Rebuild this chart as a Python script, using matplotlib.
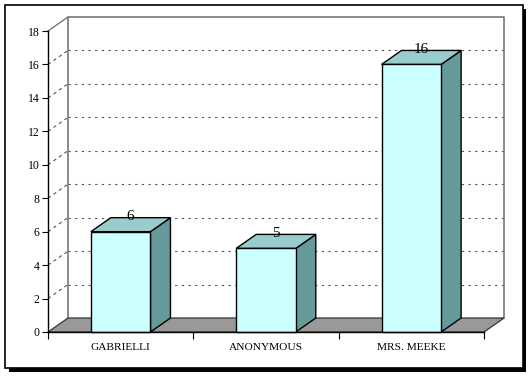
import matplotlib.pyplot as plt
from matplotlib.patches import Polygon, Rectangle

categories = ['GABRIELLI', 'ANONYMOUS', 'MRS. MEEKE']
counts = [6, 5, 16]
yticks = [0, 2, 4, 6, 8, 10, 12, 14, 16, 18]

W, H = 531, 376
fig = plt.figure(figsize=(W / 100, H / 100), dpi=100)
fig.patch.set_facecolor('white')

# frame with drop shadow (figure pixels)
fig.patches.append(Rectangle((9 / W, 1 - 372 / H), 517 / W, 363 / H, transform=fig.transFigure,
                             facecolor='black', edgecolor='none', zorder=-2))
fig.patches.append(Rectangle((5 / W, 1 - 368 / H), 518 / W, 363 / H, transform=fig.transFigure,
                             facecolor='white', edgecolor='black', linewidth=1.2, zorder=-1))

left, right, bottom, top = 48, 484, 332, 31
ax = fig.add_axes([left / W, 1 - bottom / H, (right - left) / W, (bottom - top) / H])
ax.set_zorder(1)
ax.set_xlim(-0.5, 2.5)
ax.set_ylim(0, 18)
ax.patch.set_alpha(0)

# depth offset in data units
dx = 20 / ((right - left) / 3)
dy = 14 / ((bottom - top) / 18)
x0, x1 = -0.5, 2.5
bw = 0.41

# back wall grid lines and side wall dashes
for y in yticks[1:-1]:
    ax.plot([x0 + dx, x1 + dx], [y + dy, y + dy], color='#555555', lw=0.8,
            ls=(0, (2, 4)), clip_on=False, zorder=1)
    ax.plot([x0, x0 + dx], [y, y + dy], color='#555555', lw=0.8,
            ls=(0, (3, 3)), clip_on=False, zorder=1)

# back wall border
ax.plot([x0 + dx, x0 + dx, x1 + dx, x1 + dx], [dy, 18 + dy, 18 + dy, dy],
        color='#777777', lw=1.2, clip_on=False, zorder=1)
ax.plot([x0, x0 + dx], [18, 18 + dy], color='#777777', lw=1.0, clip_on=False, zorder=1)

# floor
ax.add_patch(Polygon([(x0, 0), (x0 + dx, dy), (x1 + dx, dy), (x1, 0)], closed=True,
                     facecolor='#999999', edgecolor='#333333', lw=0.9, clip_on=False, zorder=2))

for i, v in enumerate(counts):
    xl, xr = i - bw / 2, i + bw / 2
    ax.add_patch(Polygon([(xr, 0), (xr + dx, dy), (xr + dx, v + dy), (xr, v)], closed=True,
                         facecolor='#669999', edgecolor='black', lw=1.0, clip_on=False, zorder=3))
    ax.add_patch(Polygon([(xl, v), (xl + dx, v + dy), (xr + dx, v + dy), (xr, v)], closed=True,
                         facecolor='#99CCCC', edgecolor='black', lw=1.0, clip_on=False, zorder=3))
    ax.add_patch(Rectangle((xl, 0), bw, v, facecolor='#CCFFFF', edgecolor='black',
                           lw=1.0, clip_on=False, zorder=4))
    ax.text(i + dx / 2, v + dy + 0.05, str(v), ha='center', va='center',
            fontfamily='Liberation Serif', fontsize=11, zorder=5)

for s in ['top', 'right']:
    ax.spines[s].set_visible(False)
ax.spines['left'].set_linewidth(1.0)
ax.spines['bottom'].set_linewidth(1.0)
ax.spines['left'].set_zorder(6)
ax.spines['bottom'].set_zorder(6)

ax.set_yticks(yticks)
ax.set_yticklabels([str(t) for t in yticks], fontfamily='Liberation Serif', fontsize=8.5)
ax.tick_params(axis='y', direction='out', length=4, width=0.8, pad=2)

ax.set_xticks(range(len(categories)))
ax.set_xticklabels(categories, fontfamily='Liberation Serif', fontsize=8.2)
ax.set_xticks([x0, 0.5, 1.5, x1], minor=True)
ax.tick_params(axis='x', which='major', length=0, pad=8)
ax.tick_params(axis='x', which='minor', direction='out', length=5, width=0.8)

fig.savefig('out.png', dpi=100)
